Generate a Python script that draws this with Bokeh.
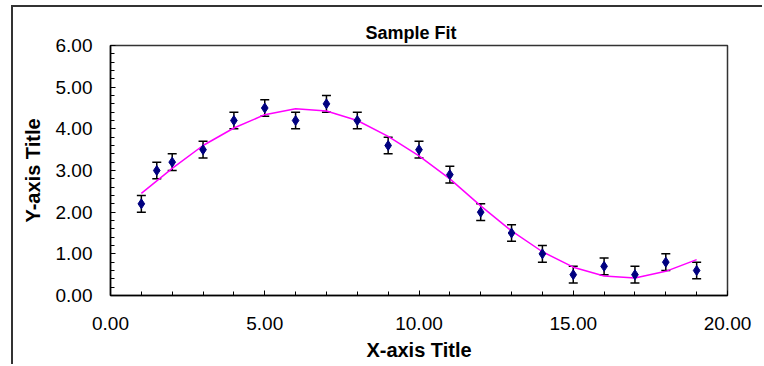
from bokeh.plotting import figure
from bokeh.models import (ColumnDataSource, Range1d, SingleIntervalTicker,
                          PrintfTickFormatter, Whisker, TeeHead)
from bokeh.embed import file_html
from bokeh.resources import INLINE

# ---- data ----
x_data = [1, 1.5, 2, 3, 4, 5, 6, 7, 8, 9, 10, 11, 12, 13, 14, 15, 16, 17, 18, 19]
y_data = [2.2, 3.0, 3.2, 3.5, 4.2, 4.5, 4.2, 4.6, 4.2, 3.6, 3.5, 2.9, 2.0, 1.5,
          1.0, 0.5, 0.7, 0.5, 0.8, 0.6]
y_err = [0.2, 0.2, 0.2, 0.2, 0.2, 0.2, 0.2, 0.2, 0.2, 0.2, 0.2, 0.2, 0.2, 0.2,
         0.2, 0.2, 0.2, 0.2, 0.2, 0.2]

x_fit = [1, 2, 3, 4, 5, 6, 7, 8, 9, 10, 11, 12, 13, 14, 15, 16, 17, 18, 19]
y_fit = [2.45, 3.05, 3.6, 4.02, 4.34, 4.48, 4.43, 4.2, 3.82, 3.35, 2.8, 2.15,
         1.55, 1.05, 0.68, 0.47, 0.42, 0.58, 0.86]

title_text = "Sample Fit"
x_title = "X-axis Title"
y_title = "Y-axis Title"

FONT = "Liberation Sans"

src = ColumnDataSource(dict(
    x=x_data, y=y_data,
    upper=[y + e for y, e in zip(y_data, y_err)],
    lower=[y - e for y, e in zip(y_data, y_err)],
))
fit_src = ColumnDataSource(dict(x=x_fit, y=y_fit))

W, H = 751, 359
ML, MR, MT, MB = 97, 37, 38, 71
p = figure(width=W, height=H, output_backend="svg", toolbar_location=None,
           x_range=Range1d(0, 20), y_range=Range1d(0, 6),
           min_border_left=ML, min_border_right=MR, min_border_top=MT,
           min_border_bottom=MB)
p.styles = {"position": "relative", "left": "11px", "top": "5px",
            "border-top": "2px solid #333333", "border-left": "2px solid #333333"}

p.title.text = title_text
p.title.align = "left"
p.title.offset = 255
p.title.standoff = 6
p.title.text_font = FONT
p.title.text_font_size = "18px"
p.title.text_font_style = "bold"
p.title.text_color = "black"

p.xgrid.visible = False
p.ygrid.visible = False
p.outline_line_color = "#333333"
p.outline_line_width = 1.5
p.background_fill_color = "white"
p.border_fill_color = "white"

p.xaxis.ticker = SingleIntervalTicker(interval=5, num_minor_ticks=5)
p.yaxis.ticker = SingleIntervalTicker(interval=1, num_minor_ticks=5)
for ax in (p.xaxis, p.yaxis):
    ax.formatter = PrintfTickFormatter(format="%.2f")
    ax.major_tick_in = 5
    ax.major_tick_out = 0
    ax.minor_tick_in = 4
    ax.minor_tick_out = 0
    ax.axis_line_color = "black"
    ax.axis_line_width = 1.5
    ax.major_tick_line_color = "black"
    ax.minor_tick_line_color = "black"
    ax.major_label_text_font = FONT
    ax.major_label_text_font_size = "19px"
    ax.major_label_text_color = "black"
    ax.axis_label_text_font = FONT
    ax.axis_label_text_font_size = "20px"
    ax.axis_label_text_font_style = "bold"
    ax.axis_label_text_color = "black"

p.xaxis.axis_label = x_title
p.yaxis.axis_label = y_title
p.xaxis.major_label_standoff = 21
p.xaxis.axis_label_standoff = 6
p.yaxis.major_label_standoff = 18
p.yaxis.axis_label_standoff = 9

p.line("x", "y", source=fit_src, line_color="#FF00FF", line_width=1.5)

p.add_layout(Whisker(source=src, base="x", upper="upper", lower="lower",
                     line_color="black", line_width=1.5,
                     upper_head=TeeHead(size=9, line_color="black", line_width=1.5),
                     lower_head=TeeHead(size=9, line_color="black", line_width=1.5)))

p.scatter("x", "y", source=src, marker="diamond", size=10,
          fill_color="#000080", line_color="#000080")

open("out.html", "w").write(file_html(p, INLINE))
